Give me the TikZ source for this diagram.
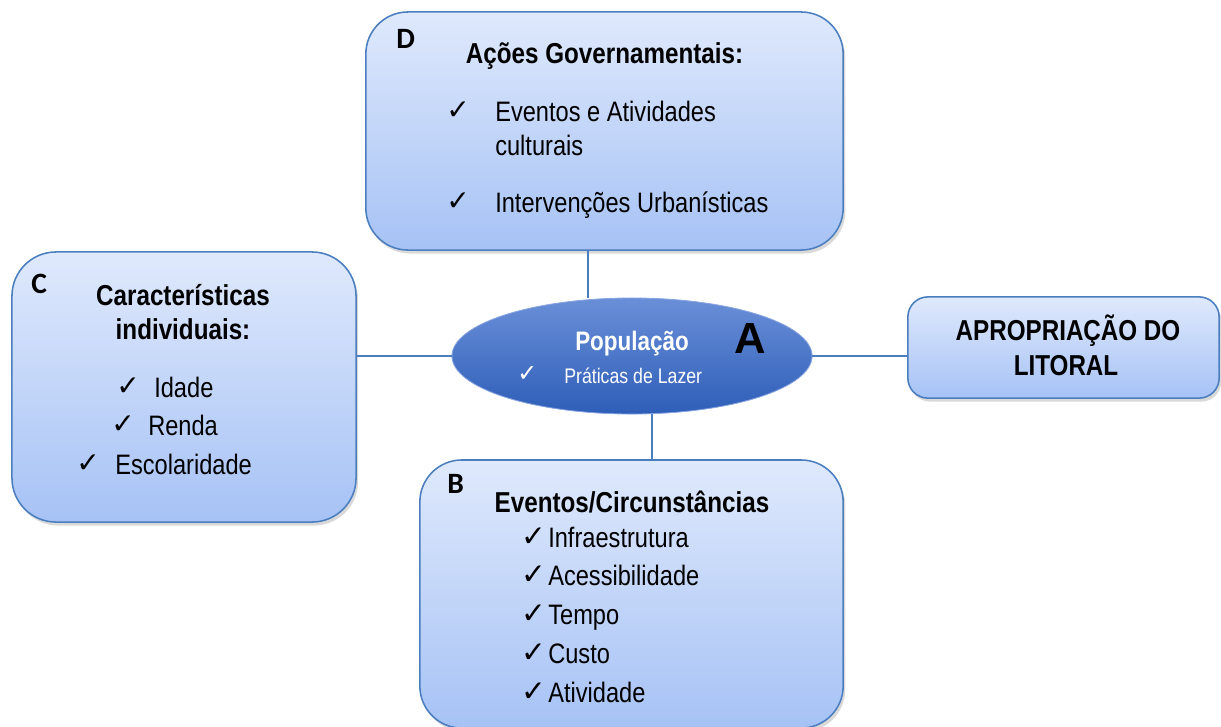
\documentclass[tikz,border=0pt]{standalone}
\usepackage{fontspec}
\setmainfont{Liberation Sans}[FakeStretch=0.84]
\newfontfamily\wideFont{Liberation Sans}
\newfontfamily\labFont{Carlito}
\newfontfamily\tickFont{DejaVu Sans}
\usepackage{tikz}
\usetikzlibrary{shapes.geometric}
\usetikzlibrary{shadows}

\definecolor{boxtop}{HTML}{DFE9FC}
\definecolor{boxbot}{HTML}{A6C2F5}
\definecolor{boxline}{HTML}{4A7EBF}
\definecolor{poptop}{HTML}{6A8FD8}
\definecolor{popbot}{HTML}{2E5EB8}

\begin{document}
\begin{tikzpicture}[x=0.025cm,y=-0.025cm,
  panel/.style={draw=boxline,line width=1.1pt,top color=boxtop,bottom color=boxbot,inner sep=0pt,
    drop shadow={shadow xshift=1.5pt,shadow yshift=-2.5pt,opacity=0.3}},
  link/.style={draw=boxline,line width=0.9pt},
  tag/.style={anchor=base west,inner sep=0pt,font=\labFont\bfseries\fontsize{21}{24}\selectfont},
  head/.style={anchor=base,inner sep=0pt,font=\bfseries\fontsize{20.5}{24}\selectfont},
  item/.style={anchor=base west,inner sep=0pt,font=\fontsize{20}{24}\selectfont},
  tick/.style={anchor=base west,inner sep=0pt,font=\tickFont\fontsize{20}{22}\selectfont}]
      \useasboundingbox (0,0) rectangle (1221,726);

      % the four boxes
      \node [panel,rounded corners=1.05cm,minimum width=11.93cm,minimum height=5.95cm] (dbox) at (604.5,131) {};
      \node [panel,rounded corners=1.1cm,minimum width=8.6cm,minimum height=6.75cm] (cbox) at (184,387) {};
      \node [panel,rounded corners=0.5cm,minimum width=7.78cm,minimum height=2.53cm] (rbox) at (1063.5,347.5) {};
      \node [panel,rounded corners=1.05cm,minimum width=10.58cm,minimum height=6.7cm] (bbox) at (631.5,594) {};

      % central ellipse
      \node [ellipse,draw=poptop!80!white,line width=0.6pt,top color=poptop,bottom color=popbot,
        minimum width=9cm,minimum height=2.9cm,inner sep=0pt] (pop) at (632,356) {};

      % connectors
      \coordinate (dx) at (588,0);
      \coordinate (bx) at (652,0);
      \path
	(dbox.south -| dx) edge[link] (pop.north -| dx)
	(pop.south -| bx) edge[link] (bbox.north -| bx)
	(cbox.east |- pop.west) edge[link] (pop.west)
	(pop.east) edge[link] (rbox.west |- pop.east);

      % D
      \node [tag] (dtag) at (396,48) {D};
      \node [head] (dhead) at (604.5,63) {Ações Governamentais:};
      \node [tick] (dtick1) at (446,119) {✓};
      \node [item] (ditem1) at (495,121) {Eventos e Atividades};
      \node [item] (ditem1b) at (495,155) {culturais};
      \node [tick] (dtick2) at (446,210) {✓};
      \node [item] (ditem2) at (495,212) {Intervenções Urbanísticas};

      % C
      \node [tag] (ctag) at (31,293) {C};
      \node [head] (chead1) at (183,305) {Características};
      \node [head] (chead2) at (183,339) {individuais:};
      \node [tick] (ctick1) at (116,395) {✓};
      \node [item] (citem1) at (154,397) {Idade};
      \node [tick] (ctick2) at (111,433) {✓};
      \node [item] (citem2) at (148,435) {Renda};
      \node [tick] (ctick3) at (76,472) {✓};
      \node [item] (citem3) at (115,474) {Escolaridade};

      % A
      \node [head,text=white,font=\bfseries\fontsize{19}{22}\selectfont] (pophead) at (632,350) {População};
      \node [anchor=base west,inner sep=0pt,font=\wideFont\bfseries\fontsize{31}{34}\selectfont] (poptag) at (734,353) {A};
      \node [tick,text=white,font=\tickFont\fontsize{17}{18}\selectfont] (poptick) at (517,381) {✓};
      \node [item,text=white,font=\fontsize{15}{18}\selectfont] (popitem) at (564,383) {Práticas de Lazer};

      % right box
      \node [head] (rhead1) at (1068,340) {APROPRIAÇÃO DO};
      \node [head] (rhead2) at (1066,375) {LITORAL};

      % B
      \node [tag] (btag) at (447,493) {B};
      \node [head] (bhead) at (632,512) {Eventos/Circunstâncias};
      \foreach \word [count=\i] in {Infraestrutura,Acessibilidade,Tempo,Custo,Atividade}{
	\node [tick,font=\tickFont\fontsize{21}{22}\selectfont] (btick\i) at (521,546+38.75*\i-38.75) {✓};
	\node [item] (bitem\i) at (548,547+38.75*\i-38.75) {\word};
      }

\end{tikzpicture}
\end{document}
